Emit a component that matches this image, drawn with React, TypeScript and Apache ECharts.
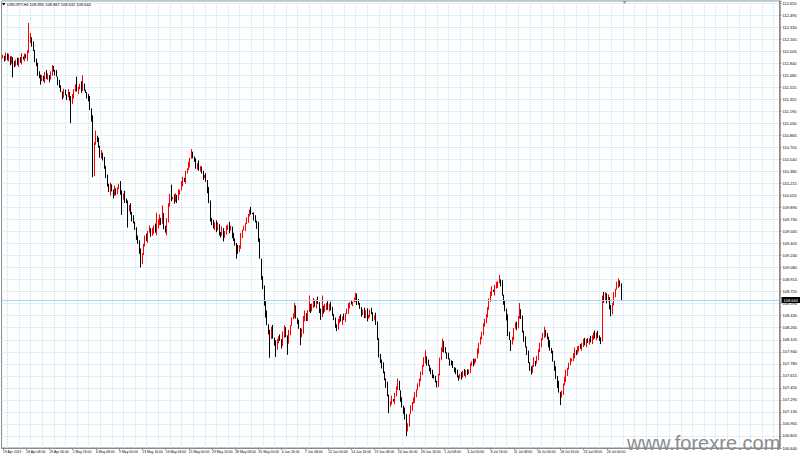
import React, { useEffect, useRef } from "react";
import * as echarts from "echarts";

const chartTitle = "USDJPY,H4 108.835 108.867 108.632 108.644";
const watermark = "www.forexre.com";

const xLabels = [
  "19 Apr 2019", "24 Apr 08:00", "29 Apr 00:00", "1 May 16:00", "6 May 08:00", "9 May 00:00",
  "13 May 16:00", "16 May 08:00", "21 May 00:00", "23 May 16:00", "28 May 08:00", "31 May 00:00",
  "4 Jun 16:00", "7 Jun 08:00", "12 Jun 00:00", "14 Jun 16:00", "19 Jun 08:00", "24 Jun 00:00",
  "26 Jun 16:00", "1 Jul 08:00", "4 Jul 00:00", "8 Jul 16:00", "11 Jul 08:00", "16 Jul 00:00",
  "18 Jul 16:00", "23 Jul 08:00", "26 Jul 00:00",
];

const firstOpen = 111.92;
const closes = [
  111.93, 111.90, 111.95, 111.88, 111.92, 111.86, 111.90, 111.87, 111.80,
  111.88, 111.84, 111.90, 111.86, 111.93, 111.89, 111.95, 111.92,
  111.98, 112.15, 112.18,
  112.10, 112.02, 111.88,
  111.80, 111.72, 111.65, 111.60,
  111.66, 111.62, 111.70, 111.64, 111.68,
  111.62, 111.72, 111.78, 111.74, 111.70,
  111.66, 111.58, 111.52,
  111.45, 111.40, 111.46, 111.42, 111.38, 111.44,
  111.36, 111.30, 111.40,
  111.48, 111.52, 111.46, 111.50, 111.55, 111.49, 111.53, 111.47,
  111.45, 111.40, 111.35,
  111.22, 111.10,
  110.35, 110.75, 110.85, 110.80, 110.70, 110.60, 110.62,
  110.55, 110.45, 110.30, 110.20, 110.10,
  110.18, 110.12, 110.05, 110.15, 110.08, 110.14,
  110.20, 110.10, 110.02, 110.08, 110.00,
  109.95, 109.85, 109.90, 109.82,
  109.75, 109.70, 109.60, 109.50, 109.40,
  109.30, 109.15, 109.25,
  109.40, 109.50, 109.45, 109.55, 109.60, 109.52,
  109.58, 109.65, 109.55, 109.62, 109.70,
  109.75, 109.68, 109.78,
  109.62, 109.55, 109.70,
  109.95, 110.05, 110.00,
  110.02, 109.98, 110.06, 110.00, 110.10, 110.12,
  110.20, 110.28, 110.25, 110.35, 110.42, 110.48,
  110.55, 110.62, 110.58, 110.52,
  110.45, 110.48, 110.40, 110.43,
  110.35, 110.30, 110.33, 110.25,
  110.12, 109.95, 109.75,
  109.70, 109.62, 109.68, 109.58, 109.64, 109.56,
  109.52, 109.60, 109.48, 109.55, 109.60, 109.66,
  109.58, 109.62, 109.50, 109.45,
  109.40, 109.35, 109.30, 109.38,
  109.50, 109.58, 109.62, 109.68,
  109.72, 109.78, 109.85, 109.82, 109.80,
  109.75, 109.70, 109.65,
  109.45, 109.20, 108.95,
  108.80, 108.60, 108.45,
  108.30, 108.20, 108.15, 108.28,
  108.12, 108.05, 107.98, 108.08, 108.15,
  108.10, 108.02, 108.18,
  108.25, 108.15, 108.05, 108.20, 108.30,
  108.38, 108.45, 108.52, 108.40, 108.35,
  108.25, 108.15, 108.22,
  108.40, 108.45, 108.38, 108.48, 108.55, 108.50,
  108.58, 108.62, 108.55, 108.65, 108.60,
  108.50, 108.42, 108.55, 108.48,
  108.55, 108.60, 108.52, 108.58, 108.50,
  108.45, 108.38, 108.30, 108.25, 108.35,
  108.40, 108.35, 108.42, 108.38, 108.45, 108.50,
  108.55, 108.60, 108.58, 108.62, 108.65,
  108.68, 108.62, 108.60,
  108.52, 108.45, 108.50, 108.42, 108.48, 108.40, 108.44,
  108.50, 108.45, 108.38, 108.42, 108.35,
  108.10, 107.90, 107.80,
  107.75, 107.65, 107.58, 107.50,
  107.35, 107.20, 107.25,
  107.30, 107.28, 107.35,
  107.45, 107.50, 107.42,
  107.30, 107.20, 107.15,
  107.05, 106.90, 106.95,
  107.10, 107.18, 107.25, 107.30,
  107.35, 107.42, 107.48,
  107.58, 107.65, 107.75, 107.82,
  107.88, 107.80, 107.75,
  107.70, 107.65, 107.62, 107.58,
  107.55, 107.50, 107.62,
  107.85, 107.95, 108.05, 107.98,
  107.92, 107.88, 107.85,
  107.80, 107.78, 107.72, 107.70,
  107.65, 107.62, 107.58, 107.63, 107.60,
  107.66, 107.64, 107.68, 107.65, 107.70,
  107.75, 107.80, 107.78, 107.82, 107.85,
  107.95, 108.05, 108.12, 108.20, 108.28,
  108.35, 108.45, 108.52,
  108.65, 108.72, 108.78, 108.75, 108.82,
  108.85, 108.88, 108.92, 108.86,
  108.70, 108.60, 108.50, 108.40,
  108.20, 108.10, 108.05, 108.12,
  108.25, 108.30, 108.28,
  108.40, 108.48, 108.42,
  108.20, 108.10, 108.00, 107.92,
  107.80, 107.72, 107.68, 107.75,
  107.82, 107.78, 107.85,
  107.95, 108.05, 108.10,
  108.15, 108.20, 108.18, 108.12,
  108.05, 107.98, 107.92,
  107.82, 107.72, 107.60, 107.50,
  107.40, 107.32, 107.38,
  107.50, 107.58, 107.65, 107.70,
  107.78, 107.82, 107.85,
  107.90, 107.95, 107.92, 107.98,
  108.02, 107.98, 108.05,
  108.08, 108.04, 108.10, 108.06,
  108.12, 108.08, 108.15,
  108.18, 108.12, 108.20, 108.15,
  108.10, 108.08,
  108.70,
  108.65, 108.72, 108.62, 108.68,
  108.55, 108.48, 108.58,
  108.70, 108.78, 108.85, 108.88,
  108.835, 108.644,
];

// wick lengths per bar, one digit per bar, in units of wickUnit
const wickUnit = 0.012;
const upperWicks = (
  "2132413201 3124021342 1302413212 4201321403 2132041321 3021423102 4132013241 2031421302 1420313241 3021432013 " +
  "2413021340 1324023142 0314213021 4203142130 2143021342 0312403214 2130412032 1402314201 3241302143 0213421302 " +
  "1340213241 2031420312 4130213402 1324031241 3021430213 2401321402 1342031240 3214021342 0312413021 4203124130 " +
  "2140321402 3124013241 2031420312 1430213402 3120413241 0213420312 4130214032 1240312413 0214031242 1302413021 " +
  "3412031240 2130421302 2413021"
).replace(/\s/g, "");
const lowerWicks = (
  "1320142310 2413021403 3120413024 1230412031 0421302413 2031420132 1403120342 3120413021 0312403124 2140312031 " +
  "3021403142 1203142031 4130213024 0213412031 1302413204 3140213021 2031420413 1203142031 3402130241 2130412031 " +
  "0413021342 2031402134 1204130213 3120413042 0213420312 2413021403 1302413021 4120314203 2031420132 1340213024 " +
  "3021403142 0312403124 2140312031 1302413204 2413021340 3120421302 0213421302 1402314201 3241302143 0213421302 " +
  "4130213402 2130412031 3120413"
).replace(/\s/g, "");

// notable spikes: bar index -> price
const spikeHighs: Record<number, number> = {
  18: 112.385, 19: 112.25, 51: 111.66, 55: 111.68, 64: 110.93, 106: 109.82, 110: 109.92,
  116: 110.2, 130: 110.68, 171: 109.9, 201: 108.6, 211: 108.7, 220: 108.7, 243: 108.74,
  272: 107.58, 291: 107.96, 303: 108.12, 342: 108.98, 356: 108.6, 373: 108.28, 424: 108.93,
  426: 108.867,
};
const spikeLows: Record<number, number> = {
  7: 111.65, 26: 111.55, 47: 111.03, 62: 110.3, 82: 109.79, 86: 109.62, 95: 109.08,
  143: 109.7, 161: 109.2, 184: 107.86, 188: 107.87, 196: 107.9, 205: 108.03, 230: 108.22,
  266: 107.11, 278: 106.8, 299: 107.46, 314: 107.55, 350: 107.95, 384: 107.22, 419: 108.42,
  426: 108.632,
};

const lastPrice = 108.644;
const yTopLabel = 112.655;
const yBottomLabel = 106.64;
const yLabelSteps = 37;
const totalSlots = 537;

export default function App() {
  const ref = useRef<HTMLDivElement>(null);

  useEffect(() => {
    if (!ref.current) return;
    const chart = echarts.init(ref.current, null, { renderer: "svg" });

    const slots = Array.from({ length: totalSlots }, (_, i) => String(i));
    const candles: any[] = ["-"];
    closes.forEach((c, i) => {
      const o = i === 0 ? firstOpen : closes[i - 1];
      const up = Number(upperWicks[i] ?? "1") * wickUnit;
      const dn = Number(lowerWicks[i] ?? "1") * wickUnit;
      const hi = Math.max(spikeHighs[i] ?? Math.max(o, c) + up, o, c);
      const lo = Math.min(spikeLows[i] ?? Math.min(o, c) - dn, o, c);
      candles.push([o, c, lo, hi]);
    });

    const plotTop = 1;
    const plotBottom = 448;
    const pxPerUnit = (yTopLabel - yBottomLabel) / 445; // label 112.655 at y=3, 106.640 at y=448
    const yMax = yBottomLabel + (plotBottom - plotTop) * pxPerUnit;
    const interval = (yTopLabel - yBottomLabel) / yLabelSteps;

    const gridColor = "#bfe3f7";
    const font = "Liberation Sans";

    chart.setOption({
      animation: false,
      backgroundColor: "#ffffff",
      textStyle: { fontFamily: font },
      grid: {
        left: 1,
        right: 18,
        top: plotTop,
        bottom: 457 - plotBottom,
        show: true,
        borderColor: "#8a8a8a",
        borderWidth: 1,
        backgroundColor: "#ffffff",
      },
      xAxis: {
        type: "category",
        data: slots,
        boundaryGap: false,
        axisLine: { show: true, lineStyle: { color: "#8a8a8a", width: 1 } },
        axisTick: {
          show: true,
          length: 2,
          interval: (idx: number) => idx >= 1 && (idx - 1) % 16 === 0 && (idx - 1) / 16 < xLabels.length,
          lineStyle: { color: "#8a8a8a" },
        },
        axisLabel: {
          show: true,
          interval: (idx: number) => idx >= 1 && (idx - 1) % 16 === 0 && (idx - 1) / 16 < xLabels.length,
          formatter: (_v: string, idx: number) => xLabels[(idx - 1) / 16] ?? "",
          align: "left",
          fontSize: 3.4,
          margin: 2,
          color: "#000000",
          fontFamily: font,
        },
        splitLine: {
          show: true,
          interval: (idx: number) => idx >= 1 && (idx - 1) % 8 === 3,
          lineStyle: { color: gridColor, type: "dotted", width: 1 },
        },
      },
      yAxis: {
        type: "value",
        position: "right",
        min: yBottomLabel,
        max: yMax,
        interval,
        axisLine: { show: true, lineStyle: { color: "#8a8a8a", width: 1.5 } },
        axisTick: { show: true, length: 2, lineStyle: { color: "#8a8a8a" } },
        axisLabel: {
          show: true,
          fontSize: 4,
          margin: 3,
          color: "#000000",
          fontFamily: font,
          formatter: (v: number) =>
            v > yTopLabel + 0.002 ? "" : (Math.round(v * 200) / 200).toFixed(3),
        },
        splitLine: { show: true, lineStyle: { color: gridColor, type: "dotted", width: 1 } },
      },
      series: [
        {
          type: "candlestick",
          data: candles,
          barWidth: 1.3,
          itemStyle: {
            color: "#ff0000",
            color0: "#000000",
            borderColor: "#ff0000",
            borderColor0: "#000000",
            borderWidth: 1,
          },
          markLine: {
            silent: true,
            symbol: "none",
            animation: false,
            data: [{ yAxis: lastPrice }],
            lineStyle: { color: "#a6d6ee", type: "solid", width: 1 },
            label: {
              show: true,
              position: "end",
              distance: 2,
              formatter: lastPrice.toFixed(3),
              color: "#ffffff",
              backgroundColor: "#000000",
              fontSize: 4,
              padding: [1, 2],
              fontFamily: font,
            },
          },
        },
      ],
      graphic: [
        {
          type: "polygon",
          shape: { points: [[2, 3], [5.5, 3], [3.75, 5.5]] },
          style: { fill: "#000000" },
          z: 100,
        },
        {
          type: "text",
          x: 7,
          y: 4.5,
          style: {
            text: chartTitle,
            fontSize: 4,
            fontFamily: font,
            fill: "#000000",
            verticalAlign: "middle",
          },
          z: 100,
        },
        {
          type: "polygon",
          shape: { points: [[622.5, 1], [626.5, 1], [624.5, 4]] },
          style: { fill: "#9a9a9a" },
          z: 100,
        },
        {
          type: "text",
          x: 627,
          y: 453,
          style: {
            text: watermark,
            fontSize: 20,
            fontFamily: font,
            fill: "#8c8c8c",
            verticalAlign: "bottom",
          },
          z: 100,
        },
      ],
    });

    return () => chart.dispose();
  }, []);

  return (
    <div
      ref={ref}
      style={{ position: "fixed", left: 0, top: 0, width: 800, height: 457 }}
    />
  );
}
